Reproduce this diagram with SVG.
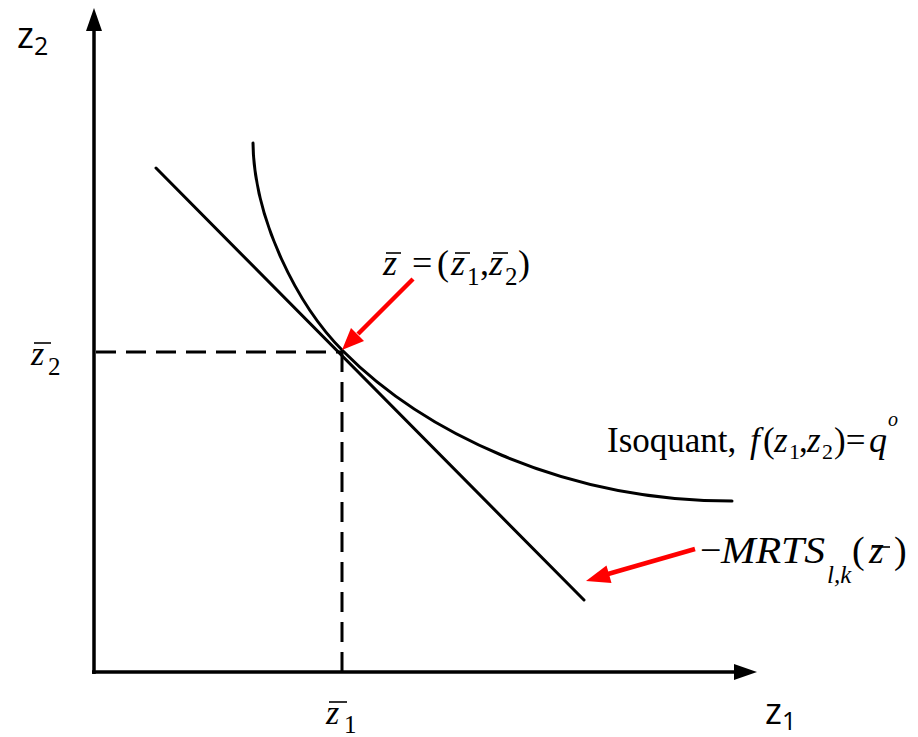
<svg xmlns="http://www.w3.org/2000/svg" width="918" height="737" viewBox="0 0 918 737">
<style>
.ax{stroke:#000;stroke-width:3.5;fill:none}
.ln{stroke:#000;stroke-width:3;fill:none;stroke-linecap:round}
.dash{stroke:#000;stroke-width:3;fill:none;stroke-dasharray:20,10}
.red{stroke:#f00;stroke-width:4.5;fill:none}
.redh{fill:#f00}
.bar{stroke:#000;stroke-width:1.6}
.sans{font-family:"Open Sans","Liberation Sans",sans-serif;fill:#000}
.it{font-family:"Liberation Serif","Times New Roman",serif;font-style:italic;fill:#000}
.rm{font-family:"Liberation Serif","Times New Roman",serif;fill:#000}
</style>
<rect width="918" height="737" fill="#fff"/>
<g id="axes">
<line class="ax" x1="94" y1="674" x2="94" y2="28"/>
<polygon points="94,8 86,31 102,31" fill="#000"/>
<line class="ax" x1="92" y1="672" x2="737" y2="672"/>
<polygon points="757,672 734,664 734,680" fill="#000"/>
</g>
<g id="guides">
<line class="dash" x1="96" y1="352" x2="342" y2="352"/>
<line class="dash" x1="342" y1="352" x2="342" y2="672"/>
</g>
<g id="tangent-line">
<line class="ln" x1="156" y1="168" x2="584" y2="600"/>
</g>
<g id="isoquant">
<path class="ln" d="M253,143 C254,220 298,306 343,351 C420,429 560,501 732,501"/>
</g>
<g id="connectors">
<line class="red" x1="413" y1="279" x2="358" y2="334"/>
<polygon class="redh" points="342,350 364,341 351,328"/>
<line class="red" x1="695" y1="549" x2="608" y2="574"/>
<polygon class="redh" points="586,581 611.5,583 606.5,565.6"/>
</g>
<g id="label-z2-axis">
<text class="sans" x="17" y="48" font-size="36">z<tspan font-size="25" dy="7">2</tspan></text>
</g>
<g id="label-z1-axis">
<text class="sans" x="765" y="724" font-size="36">z<tspan font-size="25" dy="6">1</tspan></text>
</g>
<g id="label-z2bar">
<text class="it" x="31" y="365" font-size="34">z</text>
<line class="bar" x1="34" y1="343" x2="51" y2="343"/>
<text class="rm" x="48" y="375" font-size="25">2</text>
</g>
<g id="label-z1bar">
<text class="it" x="326" y="724" font-size="34">z</text>
<line class="bar" x1="329" y1="702" x2="347" y2="702"/>
<text class="rm" x="344" y="733" font-size="25">1</text>
</g>
<g id="label-point">
<text class="it" x="383" y="275" font-size="36">z</text>
<line class="bar" x1="386" y1="253" x2="401" y2="253"/>
<text class="rm" x="412" y="275" font-size="36">=</text>
<text class="rm" x="437" y="275" font-size="36">(</text>
<text class="it" x="451" y="275" font-size="36">z</text>
<line class="bar" x1="455" y1="253" x2="470" y2="253"/>
<text class="rm" x="467" y="285" font-size="25">1</text>
<text class="rm" x="480" y="275" font-size="36">,</text>
<text class="it" x="489" y="275" font-size="36">z</text>
<line class="bar" x1="493" y1="253" x2="508" y2="253"/>
<text class="rm" x="505" y="285" font-size="25">2</text>
<text class="rm" x="518" y="275" font-size="36">)</text>
</g>
<g id="label-isoquant">
<text class="rm" x="607" y="452" font-size="35">Isoquant,</text>
<text class="it" x="750" y="452" font-size="35">f</text>
<text class="rm" x="763" y="452" font-size="35">(</text>
<text class="it" x="774" y="452" font-size="35">z</text>
<text class="rm" x="789" y="459" font-size="22">1</text>
<text class="rm" x="799" y="452" font-size="35">,</text>
<text class="it" x="807" y="452" font-size="35">z</text>
<text class="rm" x="822" y="459" font-size="22">2</text>
<text class="rm" x="834" y="452" font-size="35">)=</text>
<text class="it" x="869" y="452" font-size="36">q</text>
<text class="it" x="888" y="426" font-size="20">o</text>
</g>
<g id="label-mrts">
<text class="rm" x="700" y="563" font-size="38">−</text>
<text class="it" x="721" y="563" font-size="38" textLength="104" lengthAdjust="spacingAndGlyphs">MRTS</text>
<text class="it" x="827" y="583" font-size="25">l,k</text>
<text class="rm" x="852" y="563" font-size="38">(</text>
<text class="it" x="869" y="563" font-size="38">z</text>
<line class="bar" x1="873" y1="547" x2="890" y2="547"/>
<text class="rm" x="894" y="563" font-size="38">)</text>
</g>
</svg>
